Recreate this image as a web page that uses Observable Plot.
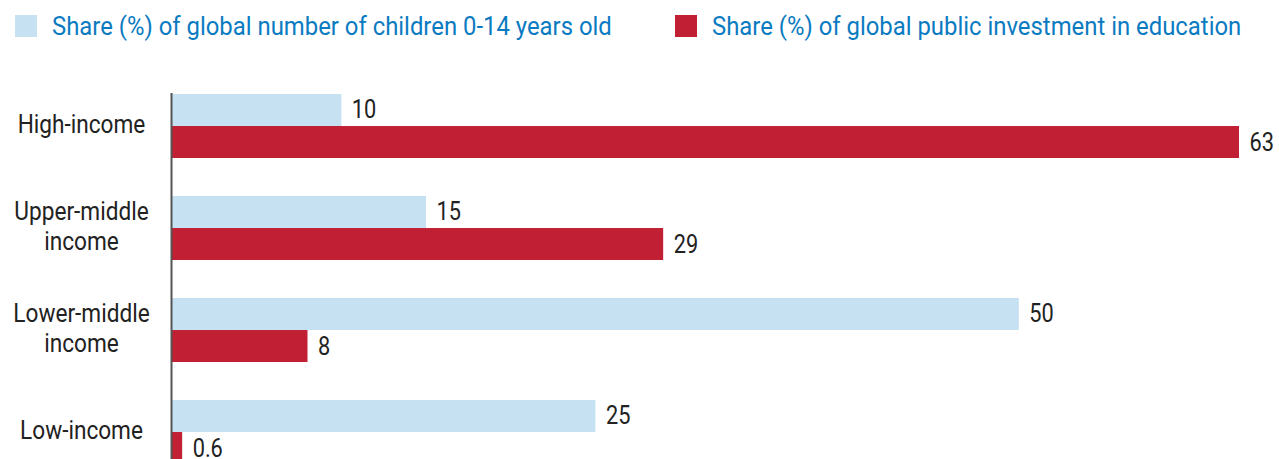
<!DOCTYPE html>
<html><head><meta charset="utf-8">
<script src="https://cdn.jsdelivr.net/npm/d3@7"></script>
<script src="https://cdn.jsdelivr.net/npm/@observablehq/plot@0.6"></script>
<style>
body{margin:0;background:#fff;font-family:Roboto,sans-serif;}
#legend{position:relative;height:52px;}
.item{position:absolute;top:0;height:52px;display:flex;align-items:center;}
.sw{width:22px;height:22px;margin-right:15px;flex:none}
.lab{font-size:25px;color:#0b7bc1;transform:scaleX(0.955);transform-origin:left center;white-space:nowrap}
</style></head><body>
<div id="legend"></div><div id="chart"></div>
<script>
const categories = ["High-income", "Upper-middle income", "Lower-middle income", "Low-income"];
const axisLabels = ["High-income", "Upper-middle\nincome", "Lower-middle\nincome", "Low-income"];
const seriesNames = ["Share (%) of global number of children 0-14 years old", "Share (%) of global public investment in education"];
const seriesColors = ["#c5e1f2", "#c11f33"];
const children = [10, 15, 50, 25];
const investment = [63, 29, 8, 0.6];
const childrenLabels = ["10", "15", "50", "25"];
const investmentLabels = ["63", "29", "8", "0.6"];

// legend
const legend = document.getElementById("legend");
const legendLeft = [15, 675];
seriesNames.forEach((s, i) => {
  const it = document.createElement("div");
  it.className = "item";
  it.style.left = legendLeft[i] + "px";
  it.innerHTML = `<div class="sw" style="background:${seriesColors[i]}"></div><span class="lab">${s}</span>`;
  legend.appendChild(it);
});

const rows = [];
categories.forEach((c, i) => {
  rows.push({category: c, series: seriesNames[0], value: children[i], label: childrenLabels[i], k: 0});
  rows.push({category: c, series: seriesNames[1], value: investment[i], label: investmentLabels[i], k: 1});
});

const W = 1279, H = 432, mt = 41, mb = 20, ml = 172, mr = 40;
const pInner = 0.374, pOuter = 0;
const band = d3.scaleBand().domain(categories).range([mt, H - mb]).paddingInner(pInner).paddingOuter(pOuter);
const bw = band.bandwidth();

const first = rows.filter(d => d.k === 0);
const second = rows.filter(d => d.k === 1);

const chart = Plot.plot({
  width: W, height: H,
  marginTop: mt, marginBottom: mb, marginLeft: ml, marginRight: mr,
  style: {fontFamily: "Roboto", background: "#fff"},
  x: {domain: [0, d3.max(investment)], axis: null},
  y: {domain: categories, paddingInner: pInner, paddingOuter: pOuter, axis: null},
  marks: [
    Plot.barX(first, {x: "value", y: "category", fill: seriesColors[0], insetBottom: bw / 2}),
    Plot.barX(second, {x: "value", y: "category", fill: seriesColors[1], insetTop: bw / 2}),
    Plot.ruleX([0], {stroke: "#555", strokeWidth: 2, dx: -1}),
    Plot.text(first, {x: "value", y: "category", text: "label", dy: -bw / 4, dx: 10, textAnchor: "start", fontSize: 25, fill: "#222"}),
    Plot.text(second, {x: "value", y: "category", text: "label", dy: bw / 4, dx: 10, textAnchor: "start", fontSize: 25, fill: "#222"}),
    Plot.text(categories, {y: d => d, text: (d, i) => axisLabels[i], frameAnchor: "left", dx: -91, dy: -3, textAnchor: "middle", lineHeight: 1.15, fontSize: 26, fill: "#222"})
  ]
});
document.getElementById("chart").appendChild(chart);
chart.querySelectorAll("text").forEach(el => {
  const t = el.getAttribute("transform") || "";
  el.setAttribute("transform", t + " scale(0.87,1)");
});
</script>
</body></html>
